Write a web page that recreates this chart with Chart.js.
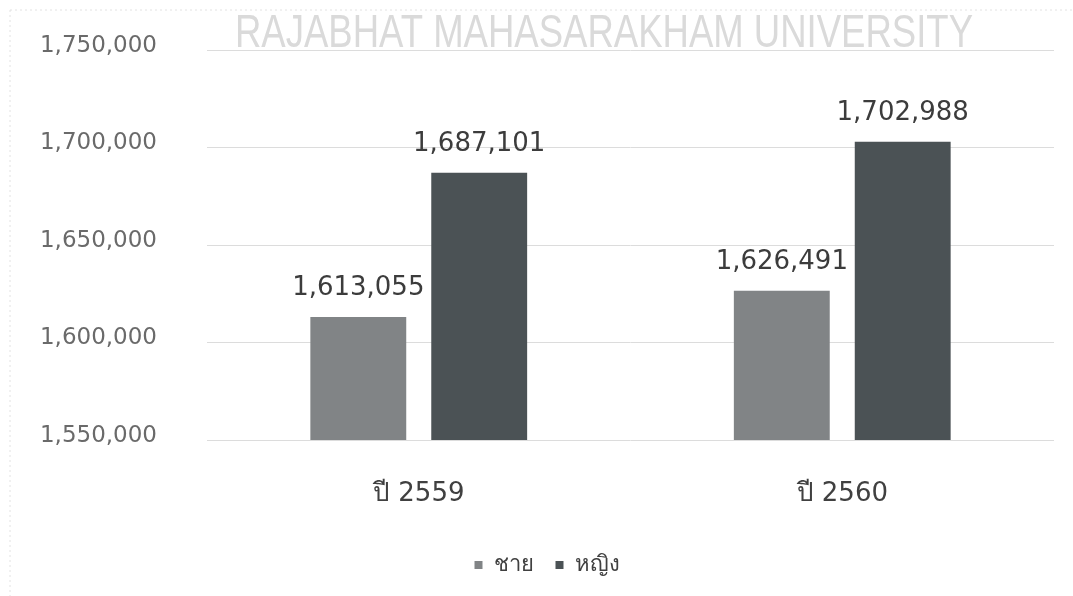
<!DOCTYPE html>
<html>
<head>
<meta charset="utf-8">
<script src="https://cdn.jsdelivr.net/npm/chart.js@4"></script>
<style>
  html, body { margin: 0; padding: 0; background: #fff; }
  #wrap { width: 1073px; height: 596px; }
</style>
</head>
<body>
<div id="wrap"><canvas id="popChart"></canvas></div>
<script>
const years = ['ปี 2559', 'ปี 2560'];
const male = [1613055, 1626491];
const female = [1687101, 1702988];
const seriesNames = ['ชาย', 'หญิง'];
const yTicks = [1550000, 1600000, 1650000, 1700000, 1750000];

const fontFamily = '"DejaVu Sans", Tahoma, "Noto Sans", sans-serif';

function fmt(v) {
  return v.toLocaleString('en-US');
}

// scanned-page leftovers: watermark + faint frame
const backdrop = {
  id: 'backdrop',
  beforeDraw(chart) {
    const c = chart.ctx;
    c.save();
    c.strokeStyle = '#e2e2e2';
    c.setLineDash([2, 3]);
    c.beginPath();
    c.moveTo(10, 10); c.lineTo(chart.width, 10);
    c.moveTo(10, 10); c.lineTo(10, chart.height);
    c.stroke();
    c.setLineDash([]);
    c.font = '47px "Liberation Sans Narrow", "Liberation Sans", sans-serif';
    const txt = 'RAJABHAT MAHASARAKHAM UNIVERSITY';
    const w = c.measureText(txt).width;
    c.translate(235, 47);
    c.scale(738 / w, 1);
    c.fillStyle = '#dadada';
    c.textBaseline = 'alphabetic';
    c.fillText(txt, 0, 0);
    c.restore();
  }
};

// value labels above the bars
const barValues = {
  id: 'barValues',
  afterDatasetsDraw(chart) {
    const c = chart.ctx;
    c.save();
    c.font = '26px ' + fontFamily;
    c.fillStyle = '#3c3c3c';
    c.textAlign = 'center';
    c.textBaseline = 'alphabetic';
    chart.data.datasets.forEach((ds, i) => {
      chart.getDatasetMeta(i).data.forEach((bar, j) => {
        c.fillText(fmt(ds.data[j]), bar.x, bar.y - 22);
      });
    });
    c.restore();
  }
};

new Chart(document.getElementById('popChart'), {
  type: 'bar',
  data: {
    labels: years,
    datasets: [{
      label: seriesNames[0],
      data: male,
      backgroundColor: '#818486',
      categoryPercentage: 0.571,
      barPercentage: 0.793
    }, {
      label: seriesNames[1],
      data: female,
      backgroundColor: '#4b5255',
      categoryPercentage: 0.571,
      barPercentage: 0.793
    }]
  },
  options: {
    responsive: true,
    maintainAspectRatio: false,
    animation: false,
    events: [],
    layout: { padding: { left: 40, right: 19, top: 50, bottom: 10 } },
    plugins: {
      tooltip: { enabled: false },
      legend: {
        position: 'bottom',
        labels: {
          boxWidth: 8,
          boxHeight: 8,
          padding: 22,
          color: '#404040',
          font: { family: fontFamily, size: 22 }
        }
      }
    },
    scales: {
      x: {
        afterFit(axis) { axis.height = 92; },
        grid: { display: false, drawTicks: false },
        border: { display: false },
        ticks: {
          padding: 39,
          color: '#404040',
          font: { family: fontFamily, size: 26 }
        }
      },
      y: {
        min: yTicks[0],
        max: yTicks[yTicks.length - 1],
        afterFit(axis) {
          axis.width = 167;
          axis.paddingTop = 0;
          axis.paddingBottom = 0;
        },
        afterBuildTicks(axis) { axis.ticks = yTicks.map(v => ({ value: v })); },
        grid: { color: '#dcdcdc', drawTicks: false },
        border: { display: false },
        ticks: {
          padding: 50,
          labelOffset: -4,
          color: '#6a6a6a',
          font: { family: fontFamily, size: 23 },
          callback: v => fmt(v)
        }
      }
    }
  },
  plugins: [backdrop, barValues]
});
</script>
</body>
</html>
